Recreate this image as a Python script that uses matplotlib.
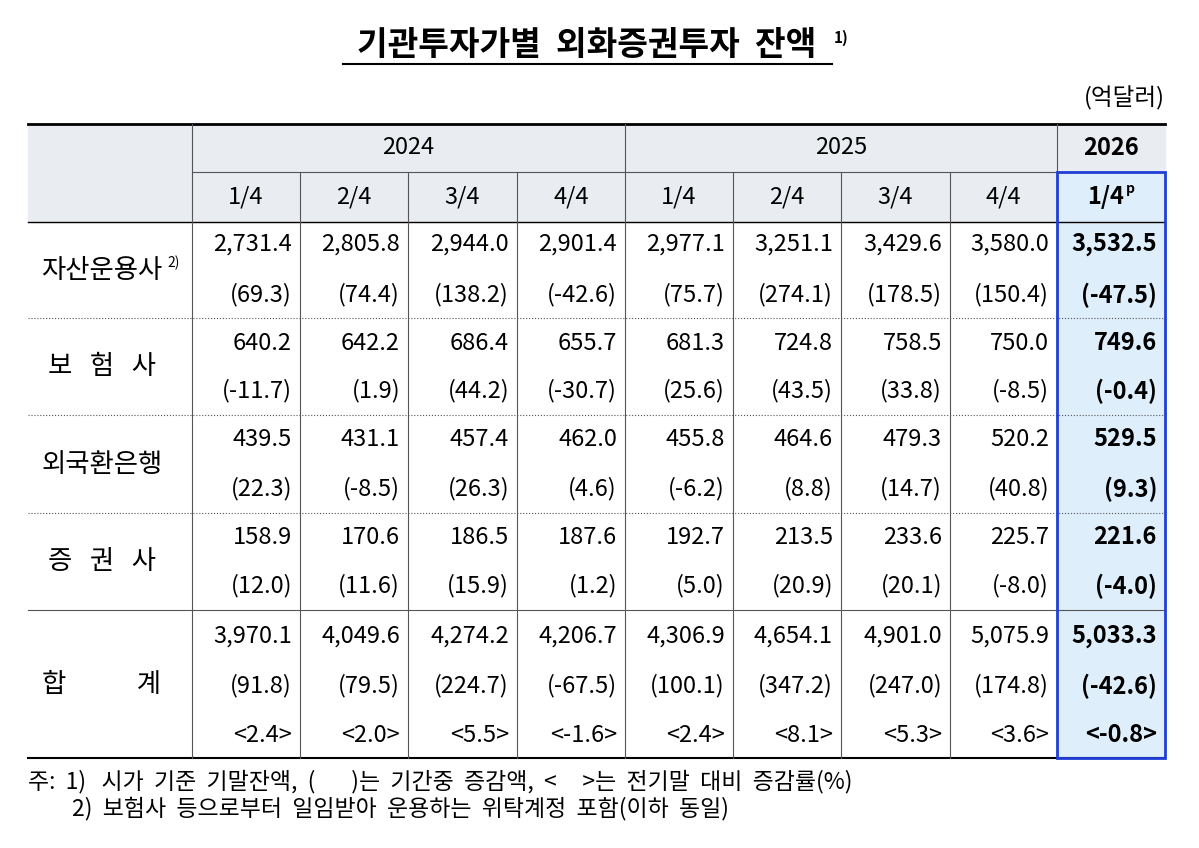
import matplotlib
matplotlib.use('Agg')
import matplotlib.pyplot as plt
from matplotlib.patches import Rectangle

plt.rcParams['font.family'] = ['Noto Sans CJK KR', 'DejaVu Sans']

# 데이터
years = ['2024', '2025', '2026']
quarters = ['1/4', '2/4', '3/4', '4/4', '1/4', '2/4', '3/4', '4/4', '1/4']
inst = ['자산운용사', '보   험   사', '외국환은행', '증   권   사', '합            계']
balance = [
    ['2,731.4', '2,805.8', '2,944.0', '2,901.4', '2,977.1', '3,251.1', '3,429.6', '3,580.0', '3,532.5'],
    ['640.2', '642.2', '686.4', '655.7', '681.3', '724.8', '758.5', '750.0', '749.6'],
    ['439.5', '431.1', '457.4', '462.0', '455.8', '464.6', '479.3', '520.2', '529.5'],
    ['158.9', '170.6', '186.5', '187.6', '192.7', '213.5', '233.6', '225.7', '221.6'],
    ['3,970.1', '4,049.6', '4,274.2', '4,206.7', '4,306.9', '4,654.1', '4,901.0', '5,075.9', '5,033.3'],
]
change = [
    ['(69.3)', '(74.4)', '(138.2)', '(-42.6)', '(75.7)', '(274.1)', '(178.5)', '(150.4)', '(-47.5)'],
    ['(-11.7)', '(1.9)', '(44.2)', '(-30.7)', '(25.6)', '(43.5)', '(33.8)', '(-8.5)', '(-0.4)'],
    ['(22.3)', '(-8.5)', '(26.3)', '(4.6)', '(-6.2)', '(8.8)', '(14.7)', '(40.8)', '(9.3)'],
    ['(12.0)', '(11.6)', '(15.9)', '(1.2)', '(5.0)', '(20.9)', '(20.1)', '(-8.0)', '(-4.0)'],
    ['(91.8)', '(79.5)', '(224.7)', '(-67.5)', '(100.1)', '(347.2)', '(247.0)', '(174.8)', '(-42.6)'],
]
growth = ['<2.4>', '<2.0>', '<5.5>', '<-1.6>', '<2.4>', '<8.1>', '<5.3>', '<3.6>', '<-0.8>']

fig = plt.figure(figsize=(11.99, 8.48), dpi=100)
ax = fig.add_axes([0, 0, 1, 1])
ax.set_xlim(0, 1199)
ax.set_ylim(848, 0)
ax.axis('off')

fs = 17
cols = [192, 300, 408, 517, 625, 733, 841, 950, 1057, 1165]
left, top, bottom = 28, 124, 758
groups = [222, 318, 415, 513, 610, 758]
blue = '#1f3fd6'

# 제목
ax.text(587, 45, '기관투자가별  외화증권투자  잔액', ha='center', va='center', fontsize=24, fontweight='bold')
ax.text(834, 38, '1)', ha='left', va='center', fontsize=11, fontweight='bold')
ax.plot([343, 832], [64, 64], color='black', lw=1.5)
ax.text(1165, 98, '(억달러)', ha='right', va='center', fontsize=fs)

# 배경
ax.add_patch(Rectangle((left, top), 1165 - left, 98, color='#e9ecf0', zorder=0))
ax.add_patch(Rectangle((1057, 172), 108, bottom - 172, color='#deeefb', zorder=0))

# 선
ax.plot([left, 1165], [top, top], color='black', lw=2)
ax.plot([left, 1165], [bottom, bottom], color='black', lw=1.5)
ax.plot([192, 1165], [172, 172], color='#555', lw=0.8)
ax.plot([left, 1165], [222, 222], color='black', lw=1)
for y in groups[1:4]:
    ax.plot([left, 1165], [y, y], color='#555', lw=0.8, ls=':')
ax.plot([left, 1165], [610, 610], color='#555', lw=0.8)
for x in cols[:-1]:
    y0 = top if x in (192, 625, 1057) else 172
    ax.plot([x, x], [y0, bottom], color='#555', lw=0.8)
ax.add_patch(Rectangle((1057, 172), 108, bottom - 172, fill=False, ec=blue, lw=2, zorder=5))

# 헤더
ax.text((192 + 625) / 2, 148, years[0], ha='center', va='center', fontsize=fs)
ax.text((625 + 1057) / 2, 148, years[1], ha='center', va='center', fontsize=fs)
ax.text(1111, 148, years[2], ha='center', va='center', fontsize=fs, fontweight='bold')
for j, q in enumerate(quarters):
    cx = (cols[j] + cols[j + 1]) / 2
    if j == 8:
        ax.text(cx - 5, 197, q, ha='center', va='center', fontsize=fs, fontweight='bold')
        ax.text(cx + 15, 189, 'p', ha='left', va='center', fontsize=10, fontweight='bold')
    else:
        ax.text(cx, 197, q, ha='center', va='center', fontsize=fs)

# 본문
row_y = [[244, 295], [343, 391], [439, 489], [537, 586], [636, 686, 735]]
for g, name in enumerate(inst):
    ys = row_y[g]
    ax.text(102, (groups[g] + groups[g + 1]) / 2, name, ha='center', va='center', fontsize=19)
    rows = [balance[g], change[g]] + ([growth] if g == 4 else [])
    for r, vals in enumerate(rows):
        for j, v in enumerate(vals):
            ax.text(cols[j + 1] - 8, ys[r], v, ha='right', va='center', fontsize=fs,
                    fontweight='bold' if j == 8 else 'normal')
ax.text(167, 263, '2)', ha='left', va='center', fontsize=10)

# 주석
ax.text(28, 782, '주:  1)   시가  기준  기말잔액,  (       )는  기간중  증감액,  <     >는  전기말  대비  증감률(%)',
        ha='left', va='center', fontsize=16.5)
ax.text(72, 808, '2)  보험사  등으로부터  일임받아  운용하는  위탁계정  포함(이하  동일)',
        ha='left', va='center', fontsize=16.5)

plt.savefig('out.png', dpi=100, facecolor='white')
